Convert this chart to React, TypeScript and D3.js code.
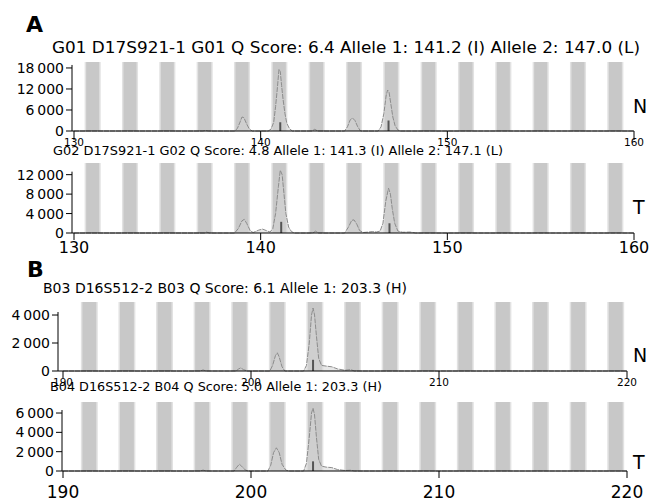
import React from 'react';
import * as d3 from 'd3';

// ---------- data ----------
const binsA = [131, 133, 135, 137, 139, 141, 143, 145, 147, 149, 151, 153, 155, 157, 159];
const binsB = [191.4, 193.4, 195.4, 197.4, 199.4, 201.4, 203.4, 205.4, 207.4, 209.4, 211.4, 213.4, 215.4, 217.4, 219.4];
const xTicksA = [130, 140, 150, 160];
const xTicksB = [190, 200, 210, 220];
const yTicksG01 = [0, 6000, 12000, 18000];
const yTicksG02 = [0, 4000, 8000, 12000];
const yTicksB03 = [0, 2000, 4000];
const yTicksB04 = [0, 2000, 4000, 6000];

const titleG01 = 'G01 D17S921-1 G01 Q Score: 6.4 Allele 1: 141.2 (I) Allele 2: 147.0 (L)';
const titleG02 = 'G02 D17S921-1 G02 Q Score: 4.8 Allele 1: 141.3 (I) Allele 2: 147.1 (L)';
const titleB03 = 'B03 D16S512-2 B03 Q Score: 6.1 Allele 1: 203.3 (H)';
const titleB04 = 'B04 D16S512-2 B04 Q Score: 5.0 Allele 1: 203.3 (H)';

const traceG01: [number, number][] = [
  [130, 0], [136.9, 0], [137.05, 150], [137.2, 0], [138.6, 0], [138.75, 700], [138.9, 2600], [139.0, 4000],
  [139.1, 3800], [139.25, 2000], [139.4, 500], [139.55, 0], [140.4, 0], [140.55, 500], [140.7, 2500],
  [140.8, 7000], [140.9, 12500], [140.98, 17600], [141.05, 17000], [141.12, 13000], [141.2, 9000],
  [141.3, 5000], [141.4, 2200], [141.55, 600], [141.7, 0], [142.75, 0], [142.9, 500], [143.05, 0],
  [144.5, 0], [144.65, 1200], [144.8, 3200], [144.92, 3700], [145.05, 3000], [145.2, 1200], [145.35, 0],
  [146.3, 0], [146.45, 1200], [146.6, 5000], [146.72, 10000], [146.8, 11700], [146.88, 11000],
  [146.98, 7500], [147.08, 4000], [147.2, 1500], [147.35, 300], [147.5, 0], [160, 0],
];
const traceG02: [number, number][] = [
  [130, 0], [137, 0], [137.1, 200], [137.25, 0], [138.6, 0], [138.8, 900], [139.0, 2500], [139.12, 2800],
  [139.25, 2000], [139.45, 400], [139.6, 100], [139.9, 600], [140.1, 800], [140.3, 500], [140.5, 200],
  [140.65, 900], [140.8, 4000], [140.95, 9500], [141.05, 12900], [141.15, 12000], [141.25, 8000],
  [141.35, 4000], [141.5, 1200], [141.65, 300], [141.8, 0], [142.8, 0], [142.95, 400], [143.1, 0],
  [144.5, 0], [144.7, 1200], [144.88, 2600], [145.0, 2700], [145.15, 1800], [145.3, 500], [145.5, 100],
  [145.8, 200], [146.0, 300], [146.2, 200], [146.4, 400], [146.55, 2000], [146.7, 6500], [146.85, 9200],
  [146.95, 8000], [147.05, 5000], [147.18, 2000], [147.35, 400], [147.6, 150], [148.0, 200], [148.3, 0], [160, 0],
];
const traceB03: [number, number][] = [
  [190, 0], [197.3, 0], [197.45, 80], [197.6, 0], [199.2, 0], [199.35, 150], [199.45, 220], [199.6, 100],
  [199.8, 0], [201.0, 0], [201.15, 400], [201.3, 1100], [201.4, 1300], [201.5, 1000], [201.65, 300],
  [201.8, 0], [202.8, 0], [202.95, 400], [203.1, 2000], [203.22, 4000], [203.3, 4500], [203.38, 4000],
  [203.48, 2500], [203.6, 900], [203.75, 400], [204.0, 350], [204.3, 300], [204.6, 150], [205.0, 50],
  [205.3, 100], [205.5, 0], [220, 0],
];
const traceB04: [number, number][] = [
  [190, 0], [197.3, 0], [197.45, 100], [197.6, 0], [199.1, 0], [199.25, 400], [199.38, 700], [199.5, 500],
  [199.7, 100], [199.85, 0], [200.9, 0], [201.05, 600], [201.2, 1900], [201.35, 2400], [201.5, 1900],
  [201.65, 700], [201.85, 100], [202.0, 0], [202.8, 0], [202.95, 800], [203.1, 3500], [203.22, 6000],
  [203.3, 6500], [203.38, 5800], [203.48, 3500], [203.6, 1200], [203.75, 500], [204.0, 400], [204.3, 350],
  [204.6, 150], [205.0, 50], [205.3, 80], [205.5, 0], [220, 0],
];
const callsG01: [number, number][] = [[141.05, 2500], [146.85, 3000]];
const callsG02: [number, number][] = [[141.1, 2300], [146.9, 2000]];
const callsB03: [number, number][] = [[203.3, 800]];
const callsB04: [number, number][] = [[203.3, 1000]];

// ---------- rendering ----------
const FONT = 'DejaVu Sans, Verdana, sans-serif';
const fmt = d3.formatLocale({ decimal: '.', thousands: '\u2009', grouping: [3], currency: ['', ''] }).format(',');

type PanelProps = {
  xDomain: [number, number];
  xRange: [number, number];
  yAxisX: number;
  top: number;
  bottom: number;
  yMax: number;
  bins: number[];
  binW: number;
  yTicks: number[];
  xTicks: number[];
  trace: [number, number][];
  calls: [number, number][];
  title: string;
  titleX: number;
  titleY: number;
  titleSize: number;
  titleLen: number;
  xLabelSize: number;
  xLabelDy: number;
  xTickLen: number;
  side: string;
  sideY: number;
};

function Panel(p: PanelProps) {
  const x = d3.scaleLinear().domain(p.xDomain).range(p.xRange);
  const y = d3.scaleLinear().domain([0, p.yMax]).range([p.bottom, p.top]);
  const area = d3.area<[number, number]>().x(d => x(d[0])).y0(y(0)).y1(d => y(d[1]));
  const line = d3.line<[number, number]>().x(d => x(d[0])).y(d => y(d[1]));
  const unit = x(p.xDomain[0] + 1) - x(p.xDomain[0]);
  const topTick = y(p.yTicks[p.yTicks.length - 1]);
  return (
    <g>
      <text x={p.titleX} y={p.titleY} fontSize={p.titleSize} fontFamily={FONT} fill="#000"
        textLength={p.titleLen} lengthAdjust="spacingAndGlyphs">{p.title}</text>
      {p.bins.map(b => (
        <g key={b}>
          <rect x={x(b) - (p.binW * unit) / 2 - 1.5} y={p.top} width={p.binW * unit + 3} height={p.bottom - p.top} fill="#e2e2e2" />
          <rect x={x(b) - (p.binW * unit) / 2} y={p.top} width={p.binW * unit} height={p.bottom - p.top} fill="#c8c8c8" />
        </g>
      ))}
      <path d={area(p.trace) || ''} fill="#d6d6d6" fillOpacity={0.55} />
      <path d={line(p.trace) || ''} fill="none" stroke="#8c8c8c" strokeWidth={1} strokeDasharray="5 1" />
      {p.calls.map(c => (
        <line key={c[0]} x1={x(c[0])} x2={x(c[0])} y1={y(0)} y2={y(c[1])} stroke="#555" strokeWidth={2} />
      ))}
      {/* y axis */}
      <line x1={p.yAxisX} x2={p.yAxisX} y1={topTick - 3} y2={p.bottom} stroke="#000" />
      {p.yTicks.map(t => (
        <g key={t}>
          <line x1={p.yAxisX - 6} x2={p.yAxisX} y1={y(t)} y2={y(t)} stroke="#000" />
          <text x={p.yAxisX - 8} y={y(t)} dy="0.36em" textAnchor="end" fontSize={14} fontFamily={FONT}>{fmt(t)}</text>
        </g>
      ))}
      {/* x axis */}
      <line x1={p.yAxisX} x2={x(p.xDomain[1])} y1={p.bottom} y2={p.bottom} stroke="#000" />
      {p.xTicks.map(t => (
        <g key={t}>
          <line x1={x(t)} x2={x(t)} y1={p.bottom} y2={p.bottom + p.xTickLen} stroke="#000" />
          <text x={x(t)} y={p.bottom + p.xLabelDy} textAnchor="middle" fontSize={p.xLabelSize} fontFamily={FONT}>{t}</text>
        </g>
      ))}
      <text x={633} y={p.sideY} fontSize={19} fontFamily={FONT}>{p.side}</text>
    </g>
  );
}

export default function App() {
  return (
    <svg width={659} height={502} style={{ position: 'absolute', left: 0, top: 0, background: '#fff' }}>
      <rect width={659} height={502} fill="#fff" />
      <text x={26} y={32} fontSize={22} fontWeight="bold" fontFamily={FONT}>A</text>
      <text x={27} y={277} fontSize={22} fontWeight="bold" fontFamily={FONT}>B</text>
      <Panel xDomain={[130, 160]} xRange={[74, 634]} yAxisX={72} top={62} bottom={131} yMax={19700}
        bins={binsA} binW={0.7} yTicks={yTicksG01} xTicks={xTicksA} trace={traceG01} calls={callsG01}
        title={titleG01} titleX={52} titleY={53} titleSize={15} titleLen={588}
        xLabelSize={10.5} xLabelDy={15} xTickLen={9} side="N" sideY={113} />
      <Panel xDomain={[130, 160]} xRange={[74, 634]} yAxisX={72} top={163} bottom={233} yMax={14400}
        bins={binsA} binW={0.7} yTicks={yTicksG02} xTicks={xTicksA} trace={traceG02} calls={callsG02}
        title={titleG02} titleX={53} titleY={155} titleSize={11.5} titleLen={450}
        xLabelSize={16} xLabelDy={20} xTickLen={7} side="T" sideY={214} />
      <Panel xDomain={[190, 220]} xRange={[63, 627]} yAxisX={58} top={302} bottom={371} yMax={4930}
        bins={binsB} binW={0.74} yTicks={yTicksB03} xTicks={xTicksB} trace={traceB03} calls={callsB03}
        title={titleB03} titleX={43} titleY={293} titleSize={13.5} titleLen={364}
        xLabelSize={10.5} xLabelDy={15} xTickLen={7} side="N" sideY={362} />
      <Panel xDomain={[190, 220]} xRange={[63, 627]} yAxisX={62} top={402} bottom={471} yMax={7140}
        bins={binsB} binW={0.74} yTicks={yTicksB04} xTicks={xTicksB} trace={traceB04} calls={callsB04}
        title={titleB04} titleX={50} titleY={391} titleSize={11.5} titleLen={332}
        xLabelSize={17} xLabelDy={27} xTickLen={7} side="T" sideY={469} />
    </svg>
  );
}
